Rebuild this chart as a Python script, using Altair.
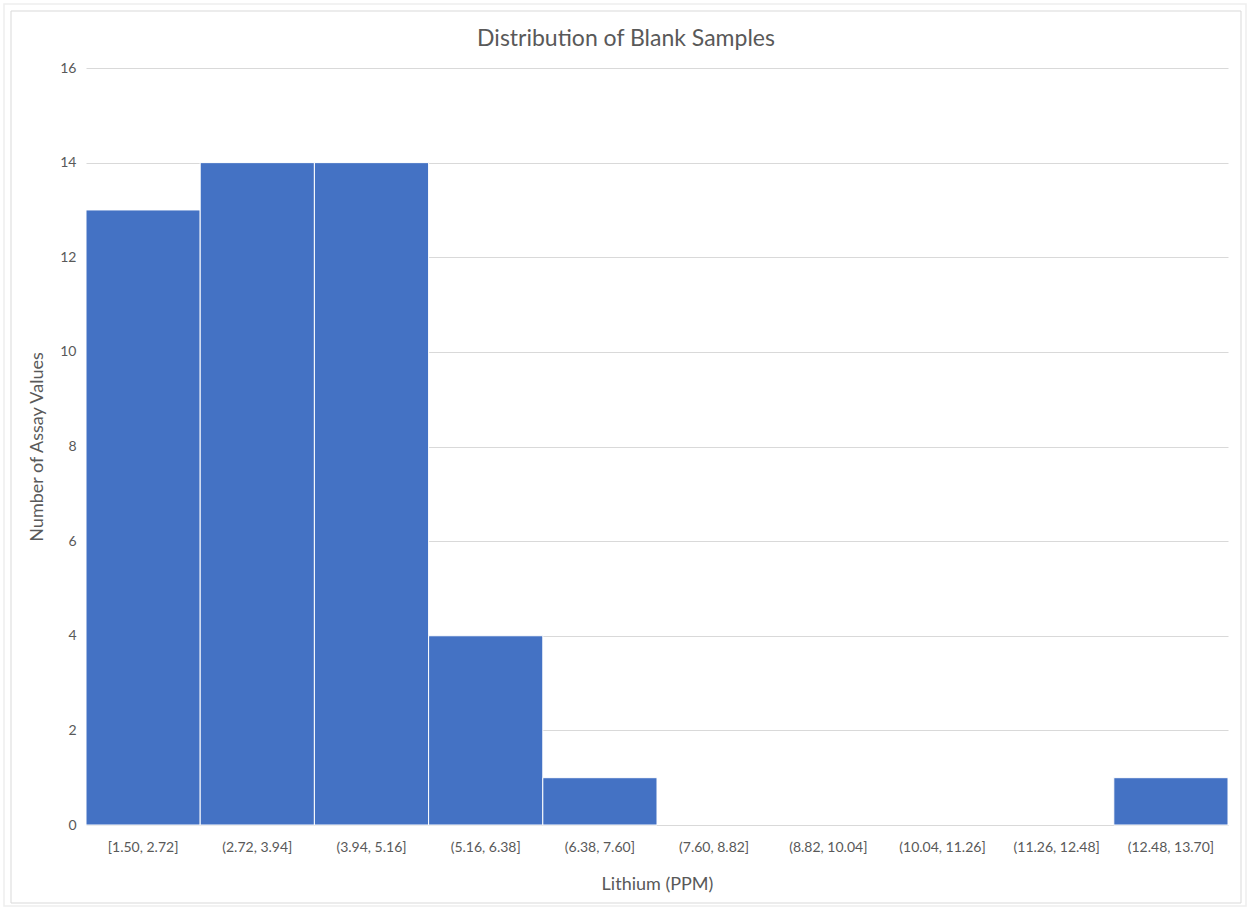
import altair as alt
import pandas as pd

bins = ["[1.50, 2.72]", "(2.72, 3.94]", "(3.94, 5.16]", "(5.16, 6.38]", "(6.38, 7.60]",
        "(7.60, 8.82]", "(8.82, 10.04]", "(10.04, 11.26]", "(11.26, 12.48]", "(12.48, 13.70]"]
counts = [13, 14, 14, 4, 1, 0, 0, 0, 0, 1]
y_ticks = [0, 2, 4, 6, 8, 10, 12, 14, 16]
title_text = ["Distribution of Blank Samples"]

df = pd.DataFrame({"bin": bins, "count": counts})

W, H = 1142, 757
TXT = "#595959"
FONT = "Lato"

bars = alt.Chart(df).transform_filter("datum.count > 0").mark_bar(
    color="#4472C4", stroke="white", strokeWidth=1
).encode(
    x=alt.X("bin:N", sort=bins,
            scale=alt.Scale(domain=bins, paddingInner=0, paddingOuter=0),
            axis=alt.Axis(title="Lithium (PPM)", labelAngle=0, domain=False, ticks=False,
                          grid=False, labelPadding=15, titlePadding=21)),
    y=alt.Y("count:Q", scale=alt.Scale(domain=[0, 16], nice=False),
            axis=alt.Axis(title="Number of Assay Values", values=y_ticks, domain=False,
                          ticks=False, grid=True, labelPadding=10, titlePadding=13)),
)

frame_df = pd.DataFrame({"k": [0]})
frame_outer = alt.Chart(frame_df).mark_rect(fill="transparent", stroke="#eeeeee", strokeWidth=1.5).encode(
    x=alt.value(-82), x2=alt.value(1160), y=alt.value(-64), y2=alt.value(838)
)
frame = alt.Chart(frame_df).mark_rect(fill="transparent", stroke="#d9d9d9", strokeWidth=1).encode(
    x=alt.value(-75), x2=alt.value(1155), y=alt.value(-57), y2=alt.value(835)
)

title = alt.Chart(pd.DataFrame({"t": title_text})).mark_text(
    font=FONT, fontSize=23, color=TXT, align="center", baseline="middle"
).encode(
    text="t:N", x=alt.value(W / 2 - 31), y=alt.value(-29)
)

chart = alt.layer(frame_outer, frame, bars, title).properties(
    width=W, height=H,
    autosize="none",
    padding={"left": 86, "top": 68, "right": 20, "bottom": 82},
    background="white",
).configure_view(stroke=None).configure_axis(
    labelFont=FONT, titleFont=FONT, labelColor=TXT, titleColor=TXT,
    labelFontSize=14, titleFontSize=18, titleFontWeight="normal",
    gridColor="#d9d9d9", gridWidth=1,
)

chart.save("out.html", embed_options={"renderer": "svg", "actions": False})
